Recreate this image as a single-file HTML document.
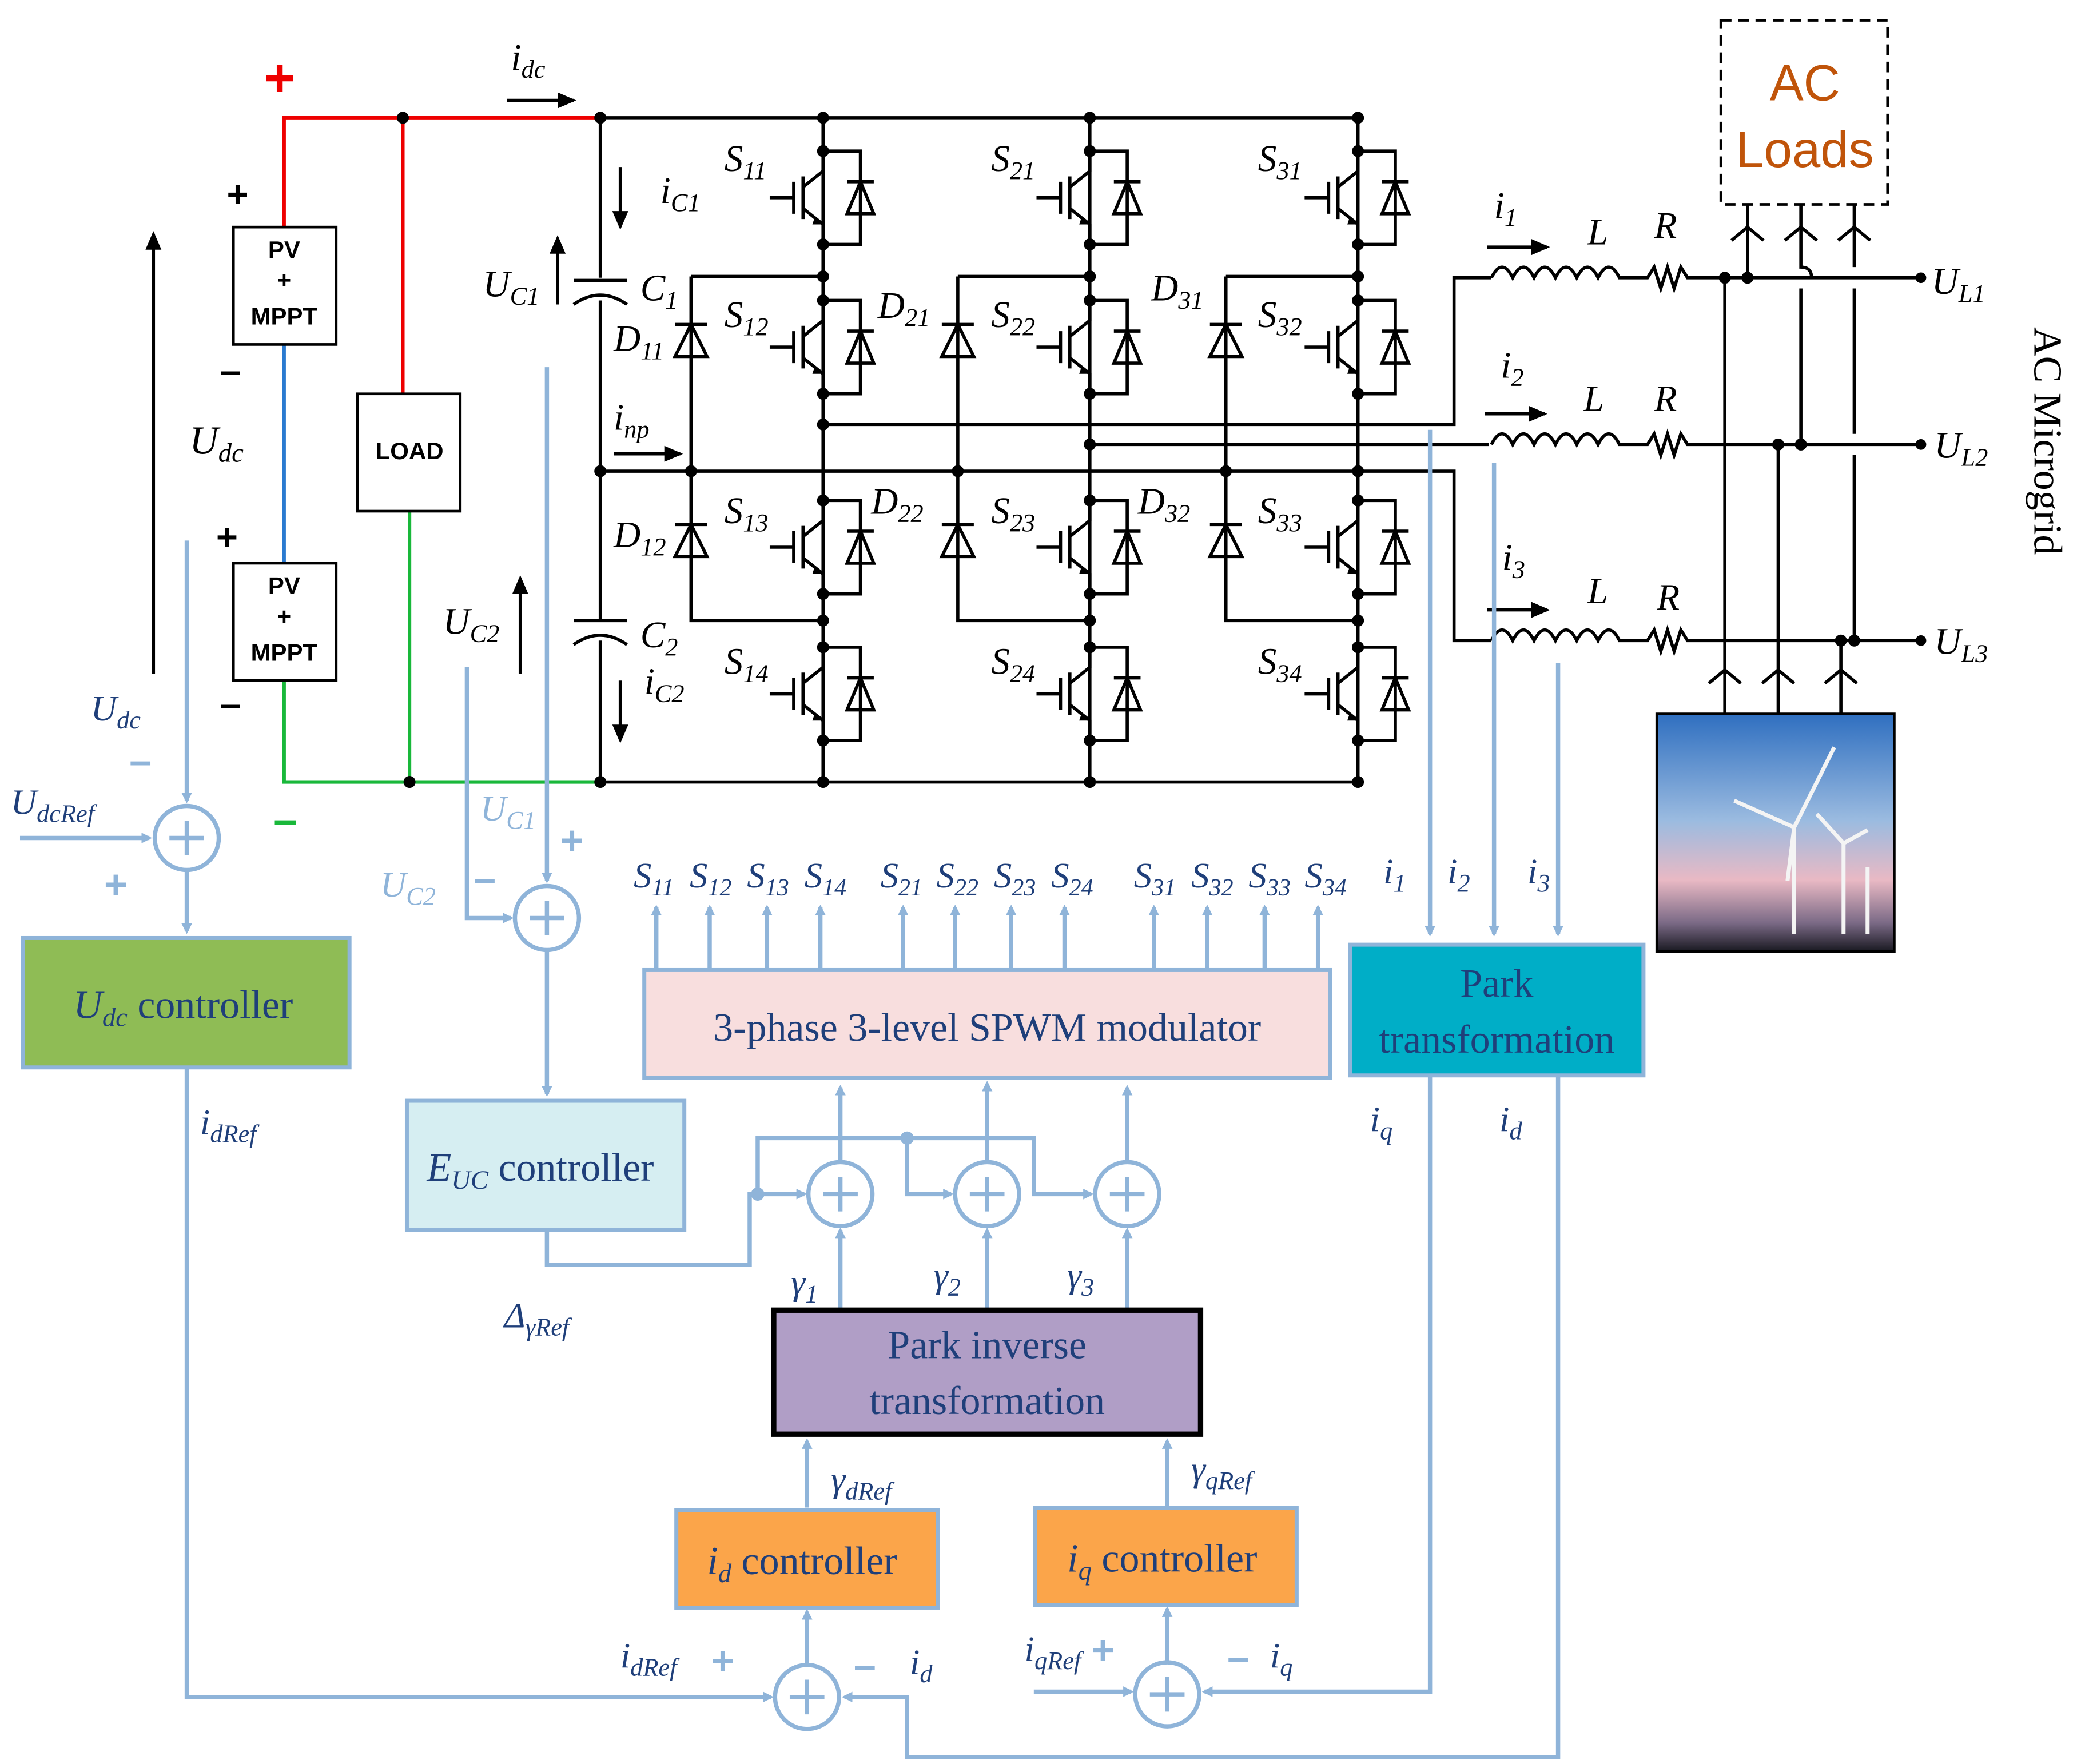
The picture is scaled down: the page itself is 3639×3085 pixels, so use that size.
<!DOCTYPE html>
<html><head><meta charset="utf-8"><style>
html,body{margin:0;padding:0;background:#fff}
svg{display:block}
text{font-family:"Liberation Serif",serif}
.i{font-style:italic}
.b{stroke:#000;stroke-width:2.4;fill:none}
.c{stroke:#8fb4d9;stroke-width:3.2;fill:none}
.t{fill:#1f3f7a}
.s text, text.s{font-family:"Liberation Sans",sans-serif}
</style></head><body>
<svg width="3639" height="3085" viewBox="0 0 1560 1322" xmlns="http://www.w3.org/2000/svg">
<defs>
<marker id="ab" markerWidth="8" markerHeight="8" refX="6" refY="4" orient="auto" markerUnits="userSpaceOnUse"><path d="M0,0 L8,4 L0,8z" fill="#8fb4d9"/></marker>
<marker id="ak" markerWidth="14" markerHeight="12" refX="12" refY="6" orient="auto" markerUnits="userSpaceOnUse"><path d="M0,0 L14,6 L0,12z" fill="#000"/></marker>
<g id="sw">
<path class="b" d="M0,-35 V-20 L-15,-8 M-15,-16 V16 M-15,8 L0,20 V35 M-22,-12 V12 M-40,0 H-22 M0,-35 H28 V35 H0"/>
<path d="M-6,14 L0,20 L-8,20z" fill="#000"/>
<path d="M18,12 H38 L28,-12z M18,-12 H38" stroke="#000" stroke-width="2.4" fill="none"/>
<circle cx="0" cy="-35" r="4.5"/><circle cx="0" cy="35" r="4.5"/>
</g>
<g id="di"><path d="M-12,12 H12 L0,-12z M-12,-12 H12" stroke="#000" stroke-width="2.4" fill="none"/></g>
<g id="sum"><circle r="24" fill="#fff" stroke="#8fb4d9" stroke-width="3.2"/><path d="M-13,0 H13 M0,-13 V13" stroke="#8fb4d9" stroke-width="3.2"/></g>
<linearGradient id="sky" x1="0" y1="0" x2="0" y2="1"><stop offset="0" stop-color="#2f6fc0"/><stop offset="0.45" stop-color="#9bbbe0"/><stop offset="0.7" stop-color="#e9b9c4"/><stop offset="0.88" stop-color="#7b6a86"/><stop offset="1" stop-color="#1a1a22"/></linearGradient>
</defs>

<path d="M213,170 V88 H450" stroke="#e00" stroke-width="2.6" fill="none"/>
<path d="M302,88 V295" stroke="#e00" stroke-width="2.6"/>
<path d="M213,258 V422" stroke="#2a7ad0" stroke-width="2.6"/>
<path d="M213,510 V586 H450 M307,383 V586" stroke="#19b83a" stroke-width="2.6" fill="none"/>
<text x="198" y="72" font-size="40" fill="#e00" class="s" font-weight="bold">+</text>
<text x="205" y="625" font-size="32" fill="#19b83a" class="s" font-weight="bold">–</text>
<circle cx="302" cy="88" r="4.5"/><circle cx="307" cy="586" r="4.5"/>
<rect x="175" y="170" width="77" height="88" fill="#fff" stroke="#000" stroke-width="2"/>
<rect x="175" y="422" width="77" height="88" fill="#fff" stroke="#000" stroke-width="2"/>
<rect x="268" y="295" width="77" height="88" fill="#fff" stroke="#000" stroke-width="2"/>
<g class="s" font-size="18" font-weight="bold" text-anchor="middle">
<text x="213" y="193">PV</text><text x="213" y="216">+</text><text x="213" y="243">MPPT</text>
<text x="213" y="445">PV</text><text x="213" y="468">+</text><text x="213" y="495">MPPT</text>
<text x="307" y="344">LOAD</text></g>
<g class="s" font-size="28" font-weight="bold"><text x="170" y="155">+</text><text x="165" y="287">–</text><text x="162" y="412">+</text><text x="165" y="537">–</text></g>
<path d="M115,505 V175" class="b" marker-end="url(#ak)"/>
<text x="142" y="340" font-size="30" class="i">U<tspan font-size="20" dy="6">dc</tspan></text>

<path class="b" d="M450,88 H1018 M450,586 H1018 M450,353 H1018 M450,88 V208 M450,225 V465 M450,480 V586"/>
<path class="b" d="M430,210 H470 M430,228 Q450,214 470,228 M430,465 H470 M430,483 Q450,469 470,483"/>
<circle cx="450" cy="88" r="4.5"/><circle cx="450" cy="586" r="4.5"/><circle cx="450" cy="353" r="4.5"/>
<path d="M380,75 H430" class="b" marker-end="url(#ak)"/>
<text x="383" y="52" font-size="28" class="i">i<tspan font-size="19" dy="6">dc</tspan></text>
<path d="M465,125 V170" class="b" marker-end="url(#ak)"/><text x="495" y="152" font-size="28" class="i">i<tspan font-size="19" dy="6">C1</tspan></text>
<path d="M465,510 V555" class="b" marker-end="url(#ak)"/><text x="483" y="520" font-size="28" class="i">i<tspan font-size="19" dy="6">C2</tspan></text>
<path d="M418,228 V178" class="b" marker-end="url(#ak)"/><text x="362" y="222" font-size="28" class="i">U<tspan font-size="19" dy="6">C1</tspan></text>
<path d="M390,505 V433" class="b" marker-end="url(#ak)"/><text x="332" y="475" font-size="28" class="i">U<tspan font-size="19" dy="6">C2</tspan></text>
<text x="480" y="225" font-size="28" class="i">C<tspan font-size="19" dy="6">1</tspan></text>
<text x="480" y="485" font-size="28" class="i">C<tspan font-size="19" dy="6">2</tspan></text>
<path d="M460,340 H510" class="b" marker-end="url(#ak)"/><text x="460" y="322" font-size="28" class="i">i<tspan font-size="19" dy="6">np</tspan></text>

<g id="leg">
<path class="b" d="M617,88 V586 M518,207 H617 M518,207 V465 H617"/>
<use href="#sw" x="617" y="148"/><use href="#sw" x="617" y="260"/><use href="#sw" x="617" y="410"/><use href="#sw" x="617" y="520"/>
<use href="#di" x="518" y="255"/><use href="#di" x="518" y="405"/>
<circle cx="617" cy="88" r="4.5"/><circle cx="617" cy="586" r="4.5"/><circle cx="518" cy="353" r="4.5"/><circle cx="617" cy="207" r="4.5"/><circle cx="617" cy="465" r="4.5"/>
</g>
<use href="#leg" x="200"/><use href="#leg" x="401"/>
<g font-size="28" class="i">
<text x="543" y="128">S<tspan font-size="19" dy="6">11</tspan></text><text x="543" y="245">S<tspan font-size="19" dy="6">12</tspan></text><text x="543" y="392">S<tspan font-size="19" dy="6">13</tspan></text><text x="543" y="505">S<tspan font-size="19" dy="6">14</tspan></text>
<text x="743" y="128">S<tspan font-size="19" dy="6">21</tspan></text><text x="743" y="245">S<tspan font-size="19" dy="6">22</tspan></text><text x="743" y="392">S<tspan font-size="19" dy="6">23</tspan></text><text x="743" y="505">S<tspan font-size="19" dy="6">24</tspan></text>
<text x="943" y="128">S<tspan font-size="19" dy="6">31</tspan></text><text x="943" y="245">S<tspan font-size="19" dy="6">32</tspan></text><text x="943" y="392">S<tspan font-size="19" dy="6">33</tspan></text><text x="943" y="505">S<tspan font-size="19" dy="6">34</tspan></text>
<text x="460" y="263">D<tspan font-size="19" dy="6">11</tspan></text><text x="460" y="410">D<tspan font-size="19" dy="6">12</tspan></text>
<text x="658" y="238">D<tspan font-size="19" dy="6">21</tspan></text><text x="653" y="385">D<tspan font-size="19" dy="6">22</tspan></text>
<text x="863" y="225">D<tspan font-size="19" dy="6">31</tspan></text><text x="853" y="385">D<tspan font-size="19" dy="6">32</tspan></text>
</g>

<path class="b" d="M617,318 H1090 V208 H1118 M817,333 H1116 M1018,353 H1090 V480 H1118"/>
<circle cx="617" cy="318" r="4.5"/><circle cx="817" cy="333" r="4.5"/><circle cx="1018" cy="353" r="4.5"/>
<g id="lr"><path class="b" d="M1118,208 q8,-16 16,0 q8,-16 16,0 q8,-16 16,0 q8,-16 16,0 q8,-16 16,0 q8,-16 16,0 H1235 l5,-8 l5,16 l5,-16 l5,16 l5,-16 l5,8 H1440"/></g>
<use href="#lr" y="125"/><use href="#lr" y="272"/>
<circle cx="1440" cy="208" r="4"/><circle cx="1440" cy="333" r="4"/><circle cx="1440" cy="480" r="4"/>
<path d="M1115,185 H1160" class="b" marker-end="url(#ak)"/><path d="M1113,310 H1158" class="b" marker-end="url(#ak)"/><path d="M1115,457 H1160" class="b" marker-end="url(#ak)"/>
<g font-size="28" class="i">
<text x="1120" y="163">i<tspan font-size="19" dy="6">1</tspan></text><text x="1125" y="283">i<tspan font-size="19" dy="6">2</tspan></text><text x="1126" y="427">i<tspan font-size="19" dy="6">3</tspan></text>
<text x="1190" y="183">L</text><text x="1240" y="178">R</text><text x="1187" y="308">L</text><text x="1240" y="308">R</text><text x="1190" y="452">L</text><text x="1242" y="457">R</text>
<text x="1448" y="220">U<tspan font-size="19" dy="6">L1</tspan></text><text x="1450" y="343">U<tspan font-size="19" dy="6">L2</tspan></text><text x="1450" y="490">U<tspan font-size="19" dy="6">L3</tspan></text>
</g>
<text transform="translate(1525,245) rotate(90)" font-size="30">AC Microgrid</text>
<path class="b" d="M1310,153 V208 M1350,153 V200 q8,0 8,8 M1350,216 V333 M1390,153 V200 M1390,216 V325 M1390,341 V480"/>
<path class="b" d="M1293,535 V208 M1333,535 V333 M1380,535 V480 M1293,341 V325 M1333,488 V472"/>
<g class="b"><path d="M1298,180 l12,-10 l12,10 M1338,180 l12,-10 l12,10 M1378,180 l12,-10 l12,10 M1281,512 l12,-10 l12,10 M1321,512 l12,-10 l12,10 M1368,512 l12,-10 l12,10"/></g>
<g fill="#000"><circle cx="1293" cy="208" r="4.5"/><circle cx="1310" cy="208" r="4.5"/><circle cx="1350" cy="333" r="4.5"/><circle cx="1333" cy="333" r="4.5"/><circle cx="1390" cy="480" r="4.5"/><circle cx="1380" cy="480" r="4.5"/></g>
<rect x="1290" y="15" width="125" height="138" fill="#fff" stroke="#000" stroke-width="2" stroke-dasharray="8,5"/>
<g class="s" font-size="38" fill="#c0540a" text-anchor="middle"><text x="1353" y="75">AC</text><text x="1353" y="125">Loads</text></g>
<rect x="1242" y="535" width="178" height="178" fill="url(#sky)" stroke="#000" stroke-width="2"/>
<g stroke="#f4f4f4" stroke-width="3"><path d="M1345,620 V700 M1345,620 L1300,600 M1345,620 L1375,560 M1345,620 L1340,660 M1382,632 V700 M1382,632 L1362,610 M1382,632 L1400,622 M1400,650 V700"/></g>

<g class="c">
<path d="M140,405 V600" marker-end="url(#ab)"/><path d="M15,628 H112" marker-end="url(#ab)"/><path d="M140,652 V698" marker-end="url(#ab)"/>
<path d="M140,800 V1272 H578" marker-end="url(#ab)"/>
<path d="M410,275 V660" marker-end="url(#ab)"/><path d="M350,500 V688 H383" marker-end="url(#ab)"/><path d="M410,712 V820" marker-end="url(#ab)"/>
<path d="M410,922 V948 H562 V895 H603" marker-end="url(#ab)"/>
<path d="M568,895 V853 H775 V895 H818" marker-end="url(#ab)"/><path d="M680,853 V895 H713" marker-end="url(#ab)"/>
<path d="M630,870 V815" marker-end="url(#ab)"/><path d="M740,870 V812" marker-end="url(#ab)"/><path d="M845,870 V815" marker-end="url(#ab)"/>
<path d="M630,982 V922" marker-end="url(#ab)"/><path d="M740,982 V922" marker-end="url(#ab)"/><path d="M845,982 V922" marker-end="url(#ab)"/>
<path d="M492,727 V680" marker-end="url(#ab)"/><path d="M532,727 V680" marker-end="url(#ab)"/><path d="M575,727 V680" marker-end="url(#ab)"/><path d="M615,727 V680" marker-end="url(#ab)"/>
<path d="M677,727 V680" marker-end="url(#ab)"/><path d="M716,727 V680" marker-end="url(#ab)"/><path d="M758,727 V680" marker-end="url(#ab)"/><path d="M798,727 V680" marker-end="url(#ab)"/>
<path d="M865,727 V680" marker-end="url(#ab)"/><path d="M905,727 V680" marker-end="url(#ab)"/><path d="M948,727 V680" marker-end="url(#ab)"/><path d="M988,727 V680" marker-end="url(#ab)"/>
<path d="M1072,322 V700" marker-end="url(#ab)"/><path d="M1120,347 V700" marker-end="url(#ab)"/><path d="M1168,497 V700" marker-end="url(#ab)"/>
<path d="M605,1247 V1208" marker-end="url(#ab)"/><path d="M605,1130 V1080" marker-end="url(#ab)"/>
<path d="M875,1245 V1206" marker-end="url(#ab)"/><path d="M875,1130 V1080" marker-end="url(#ab)"/>
<path d="M1072,806 V1268 H903" marker-end="url(#ab)"/><path d="M1168,806 V1317 H680 V1272 H633" marker-end="url(#ab)"/>
<path d="M775,1268 H848" marker-end="url(#ab)"/>
</g>
<circle cx="568" cy="895" r="5" fill="#8fb4d9"/><circle cx="680" cy="853" r="5" fill="#8fb4d9"/>
<use href="#sum" x="140" y="628"/><use href="#sum" x="410" y="688"/><use href="#sum" x="630" y="895"/><use href="#sum" x="740" y="895"/><use href="#sum" x="845" y="895"/><use href="#sum" x="605" y="1272"/><use href="#sum" x="875" y="1270"/>

<rect x="17" y="703" width="245" height="97" fill="#8fbc55" stroke="#8fb4d9" stroke-width="3"/>
<rect x="305" y="825" width="208" height="97" fill="#d6eef2" stroke="#8fb4d9" stroke-width="3"/>
<rect x="483" y="727" width="514" height="81" fill="#f8dede" stroke="#8fb4d9" stroke-width="3"/>
<rect x="1012" y="708" width="220" height="98" fill="#00aec7" stroke="#8fb4d9" stroke-width="3"/>
<rect x="580" y="982" width="320" height="93" fill="#b09ec6" stroke="#000" stroke-width="4"/>
<rect x="507" y="1132" width="196" height="73" fill="#fba54a" stroke="#8fb4d9" stroke-width="3"/>
<rect x="776" y="1130" width="196" height="73" fill="#fba54a" stroke="#8fb4d9" stroke-width="3"/>

<g class="t" font-size="30">
<text x="55" y="763"><tspan class="i">U</tspan><tspan class="i" font-size="20" dy="6">dc</tspan><tspan dy="-6"> controller</tspan></text>
<text x="320" y="885"><tspan class="i">E</tspan><tspan class="i" font-size="20" dy="6">UC</tspan><tspan dy="-6"> controller</tspan></text>
<text x="740" y="780" text-anchor="middle">3-phase 3-level SPWM modulator</text>
<text x="1122" y="747" text-anchor="middle">Park</text><text x="1122" y="789" text-anchor="middle">transformation</text>
<text x="740" y="1018" text-anchor="middle">Park inverse</text><text x="740" y="1060" text-anchor="middle">transformation</text>
<text x="530" y="1180"><tspan class="i">i</tspan><tspan class="i" font-size="20" dy="6">d</tspan><tspan dy="-6"> controller</tspan></text>
<text x="800" y="1178"><tspan class="i">i</tspan><tspan class="i" font-size="20" dy="6">q</tspan><tspan dy="-6"> controller</tspan></text>
</g>
<g class="t i" font-size="27">
<text x="68" y="540">U<tspan font-size="19" dy="6">dc</tspan></text>
<text x="8" y="610">U<tspan font-size="19" dy="6">dcRef</tspan></text>
<text x="150" y="850">i<tspan font-size="19" dy="6">dRef</tspan></text>
<text x="378" y="995">Δ<tspan font-size="19" dy="6">γRef</tspan></text>
<text x="593" y="970">γ<tspan font-size="19" dy="6">1</tspan></text><text x="700" y="965">γ<tspan font-size="19" dy="6">2</tspan></text><text x="800" y="965">γ<tspan font-size="19" dy="6">3</tspan></text>
<text x="623" y="1118">γ<tspan font-size="19" dy="6">dRef</tspan></text><text x="893" y="1110">γ<tspan font-size="19" dy="6">qRef</tspan></text>
<text x="465" y="1250">i<tspan font-size="19" dy="6">dRef</tspan></text><text x="682" y="1255">i<tspan font-size="19" dy="6">d</tspan></text>
<text x="768" y="1245">i<tspan font-size="19" dy="6">qRef</tspan></text><text x="952" y="1250">i<tspan font-size="19" dy="6">q</tspan></text>
<text x="1027" y="848">i<tspan font-size="19" dy="6">q</tspan></text><text x="1124" y="848">i<tspan font-size="19" dy="6">d</tspan></text>
<text x="1037" y="662">i<tspan font-size="19" dy="6">1</tspan></text><text x="1085" y="662">i<tspan font-size="19" dy="6">2</tspan></text><text x="1145" y="662">i<tspan font-size="19" dy="6">3</tspan></text>
<text x="475" y="665">S<tspan font-size="18" dy="6">11</tspan></text><text x="517" y="665">S<tspan font-size="18" dy="6">12</tspan></text><text x="560" y="665">S<tspan font-size="18" dy="6">13</tspan></text><text x="603" y="665">S<tspan font-size="18" dy="6">14</tspan></text>
<text x="660" y="665">S<tspan font-size="18" dy="6">21</tspan></text><text x="702" y="665">S<tspan font-size="18" dy="6">22</tspan></text><text x="745" y="665">S<tspan font-size="18" dy="6">23</tspan></text><text x="788" y="665">S<tspan font-size="18" dy="6">24</tspan></text>
<text x="850" y="665">S<tspan font-size="18" dy="6">31</tspan></text><text x="893" y="665">S<tspan font-size="18" dy="6">32</tspan></text><text x="936" y="665">S<tspan font-size="18" dy="6">33</tspan></text><text x="978" y="665">S<tspan font-size="18" dy="6">34</tspan></text>
</g>
<g fill="#8fb4d9" class="i" font-size="27">
<text x="360" y="615">U<tspan font-size="19" dy="6">C1</tspan></text><text x="285" y="672">U<tspan font-size="19" dy="6">C2</tspan></text>
</g>
<g fill="#8fb4d9" class="s" font-size="30" font-weight="bold">
<text x="97" y="580">–</text><text x="78" y="673">+</text><text x="420" y="640">+</text><text x="355" y="668">–</text>
<text x="533" y="1255">+</text><text x="640" y="1258">–</text><text x="818" y="1247">+</text><text x="920" y="1252">–</text>
</g>
</svg>
</body></html>
